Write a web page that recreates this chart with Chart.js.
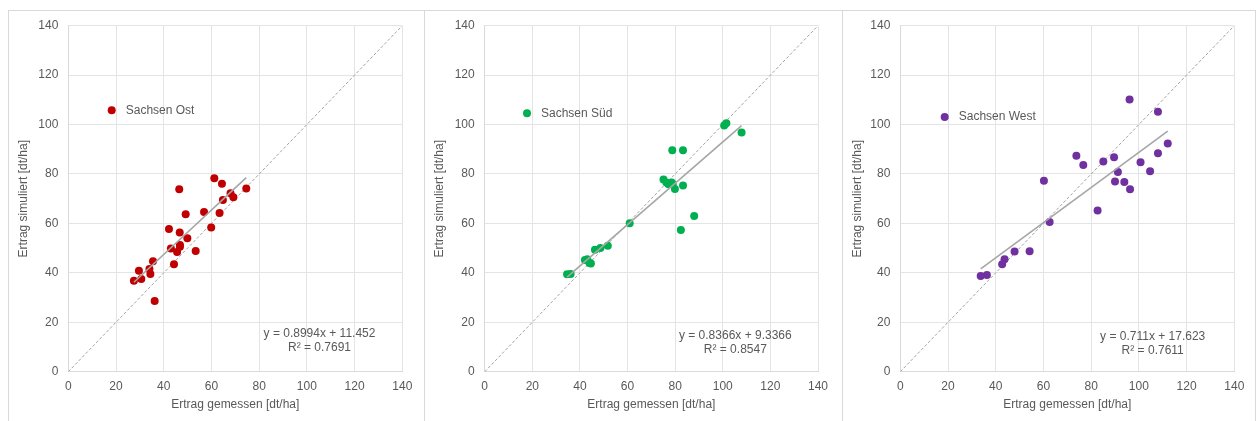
<!DOCTYPE html>
<html lang="de">
<head>
<meta charset="utf-8">
<title>Ertrag gemessen vs. simuliert</title>
<script src="https://cdn.jsdelivr.net/npm/chart.js@4.4.1/dist/chart.umd.min.js"></script>
<style>
  html, body { margin: 0; padding: 0; background: #ffffff; width: 1257px; height: 421px; overflow: hidden; }
  .frame { position: absolute; top: 10px; height: 430px; border: 1px solid #d9d9d9; box-sizing: border-box; }
  canvas { position: absolute; top: 0; }
</style>
</head>
<body>
<div class="frame" style="left:8px;width:417px"></div>
<div class="frame" style="left:424px;width:419px"></div>
<div class="frame" style="left:842px;width:414px"></div>
<canvas id="c1" width="414" height="421" style="left:9px"></canvas>
<canvas id="c2" width="416" height="421" style="left:425px"></canvas>
<canvas id="c3" width="411" height="421" style="left:843px"></canvas>
<script>
// Axis ticks (dt/ha)
const axisTicks = [0, 20, 40, 60, 80, 100, 120, 140];

// Sachsen Ost
const ostGemessen  = [27.5, 29.6, 30.6, 34.0, 34.4, 35.5, 36.2, 42.2, 43.0, 44.3, 45.6, 46.5, 46.7, 46.8, 46.8, 49.2, 49.9, 53.4, 56.9, 59.9, 61.2, 63.4, 64.4, 64.8, 68.0, 69.2, 74.6];
const ostSimuliert = [36.8, 40.8, 37.5, 41.6, 39.5, 44.7, 28.6, 57.7, 49.9, 43.5, 48.4, 73.8, 56.3, 51.3, 50.6, 63.7, 54.0, 48.8, 64.6, 58.3, 78.3, 64.2, 76.0, 69.5, 72.2, 70.6, 74.1];

// Sachsen Süd
const suedGemessen  = [34.6, 36.1, 42.1, 43.1, 44.0, 44.6, 46.3, 48.6, 51.7, 60.9, 75.1, 76.3, 77.2, 78.5, 79.0, 79.9, 78.8, 83.3, 83.3, 82.4, 88.0, 100.6, 101.5, 107.9];
const suedSimuliert = [39.4, 39.5, 45.2, 45.5, 44.0, 43.8, 49.3, 50.1, 51.0, 60.1, 77.8, 76.6, 75.8, 76.6, 75.9, 73.9, 89.6, 89.6, 75.3, 57.3, 63.0, 99.6, 100.5, 96.8];

// Sachsen West
const westGemessen  = [33.7, 36.3, 42.7, 43.7, 47.9, 54.2, 60.2, 62.6, 73.8, 76.7, 82.7, 85.1, 89.6, 90.0, 91.2, 93.9, 96.1, 96.3, 100.7, 104.7, 108.0, 108.0, 112.1];
const westSimuliert = [38.7, 39.1, 43.5, 45.5, 48.6, 48.7, 77.3, 60.6, 87.4, 83.6, 65.2, 85.1, 86.8, 77.0, 80.8, 76.8, 110.1, 73.8, 84.7, 81.1, 105.2, 88.4, 92.3];

// Linear trend (slope, intercept) and coefficient of determination per region
const trendSlope     = [0.8994, 0.8366, 0.711];
const trendIntercept = [11.452, 9.3366, 17.623];
const trendR2        = ['0.7691', '0.8547', '0.7611'];
const trendLabel     = ['y = 0.8994x + 11.452', 'y = 0.8366x + 9.3366', 'y = 0.711x + 17.623'];

const regionNames  = ['Sachsen Ost', 'Sachsen Süd', 'Sachsen West'];
const regionColors = ['#c00000', '#00b050', '#7030a0'];

const TEXT = '#595959';
const FONT = "'Liberation Sans', Arial, sans-serif";

// Panel layout: canvas id, plot-area left edge and right padding inside each canvas,
// plus legend / equation offsets from the plot-area corner
const panels = [
  { id: 'c1', x: ostGemessen,  y: ostSimuliert,  yWidth: 59.3, padRight: 20.7, leg: [43.4, 84.6], eq: [251.2, 307.6] },
  { id: 'c2', x: suedGemessen, y: suedSimuliert, yWidth: 59.7, padRight: 23.0, leg: [42.3, 87.6], eq: [250.6, 310.3] },
  { id: 'c3', x: westGemessen, y: westSimuliert, yWidth: 57.3, padRight: 19.7, leg: [44.4, 91.3], eq: [252.4, 311.0] }
];

// Draws the in-plot legend entry and the regression equation
const annotations = {
  id: 'annotations',
  afterDatasetsDraw(chart, args, opts) {
    const { ctx, chartArea } = chart;
    ctx.save();
    ctx.font = '12px ' + FONT;
    ctx.fillStyle = TEXT;
    ctx.textBaseline = 'middle';
    // legend
    const lx = chartArea.left + opts.leg[0];
    const ly = chartArea.top + opts.leg[1];
    ctx.beginPath();
    ctx.arc(lx, ly, 4, 0, Math.PI * 2);
    ctx.fillStyle = opts.color;
    ctx.fill();
    ctx.fillStyle = TEXT;
    ctx.textAlign = 'left';
    ctx.fillText(opts.name, lx + 14, ly);
    // equation
    ctx.textAlign = 'center';
    const ex = chartArea.left + opts.eq[0];
    const ey = chartArea.top + opts.eq[1];
    ctx.fillText(opts.equation, ex, ey);
    ctx.fillText('R² = ' + opts.r2, ex, ey + 14);
    ctx.restore();
  }
};

panels.forEach((p, i) => {
  const points = p.x.map((v, k) => ({ x: v, y: p.y[k] }));
  const xMin = Math.min(...p.x);
  const xMax = Math.max(...p.x);
  const trend = [
    { x: xMin, y: trendSlope[i] * xMin + trendIntercept[i] },
    { x: xMax, y: trendSlope[i] * xMax + trendIntercept[i] }
  ];
  const diagonal = [
    { x: axisTicks[0], y: axisTicks[0] },
    { x: axisTicks[axisTicks.length - 1], y: axisTicks[axisTicks.length - 1] }
  ];

  const axisCommon = (title) => ({
    type: 'linear',
    min: axisTicks[0],
    max: axisTicks[axisTicks.length - 1],
    afterBuildTicks: (scale) => { scale.ticks = axisTicks.map(v => ({ value: v })); },
    ticks: { color: TEXT, font: { family: FONT, size: 12 } },
    grid: { color: '#e4e4e4', lineWidth: 1, drawTicks: false },
    border: { display: true, color: '#d9d9d9', width: 1 },
    title: { display: true, text: title, color: TEXT, font: { family: FONT, size: 12, lineHeight: 1.2 } }
  });

  const xAxis = axisCommon('Ertrag gemessen [dt/ha]');
  xAxis.ticks.padding = 8;
  xAxis.title.padding = { top: 0, bottom: 9 };
  xAxis.afterFit = (scale) => { scale.height = 49.3; };

  const yAxis = axisCommon('Ertrag simuliert [dt/ha]');
  yAxis.ticks.padding = 10;
  yAxis.title.padding = { top: 7, bottom: 0 };
  yAxis.afterFit = (scale) => { scale.width = p.yWidth; };

  new Chart(document.getElementById(p.id), {
    type: 'scatter',
    data: {
      datasets: [
        {
          label: 'Trend',
          data: trend,
          showLine: true,
          borderColor: '#a6a6a6',
          borderWidth: 1.6,
          pointRadius: 0,
          fill: false
        },
        {
          label: regionNames[i],
          data: points,
          backgroundColor: regionColors[i],
          borderColor: regionColors[i],
          pointRadius: 4,
          pointBorderWidth: 0,
          showLine: false
        },
        {
          label: '1:1',
          data: diagonal,
          showLine: true,
          borderColor: '#a3a3a3',
          borderWidth: 1,
          borderDash: [3, 2],
          pointRadius: 0,
          fill: false
        }
      ]
    },
    options: {
      responsive: false,
      animation: false,
      devicePixelRatio: 1,
      layout: { padding: { left: 0, top: 25.7, right: p.padRight, bottom: 0 } },
      scales: { x: xAxis, y: yAxis },
      plugins: {
        legend: { display: false },
        tooltip: { enabled: false },
        annotations: {
          leg: p.leg,
          eq: p.eq,
          color: regionColors[i],
          name: regionNames[i],
          equation: trendLabel[i],
          r2: trendR2[i]
        }
      }
    },
    plugins: [annotations]
  });
});
</script>
</body>
</html>
